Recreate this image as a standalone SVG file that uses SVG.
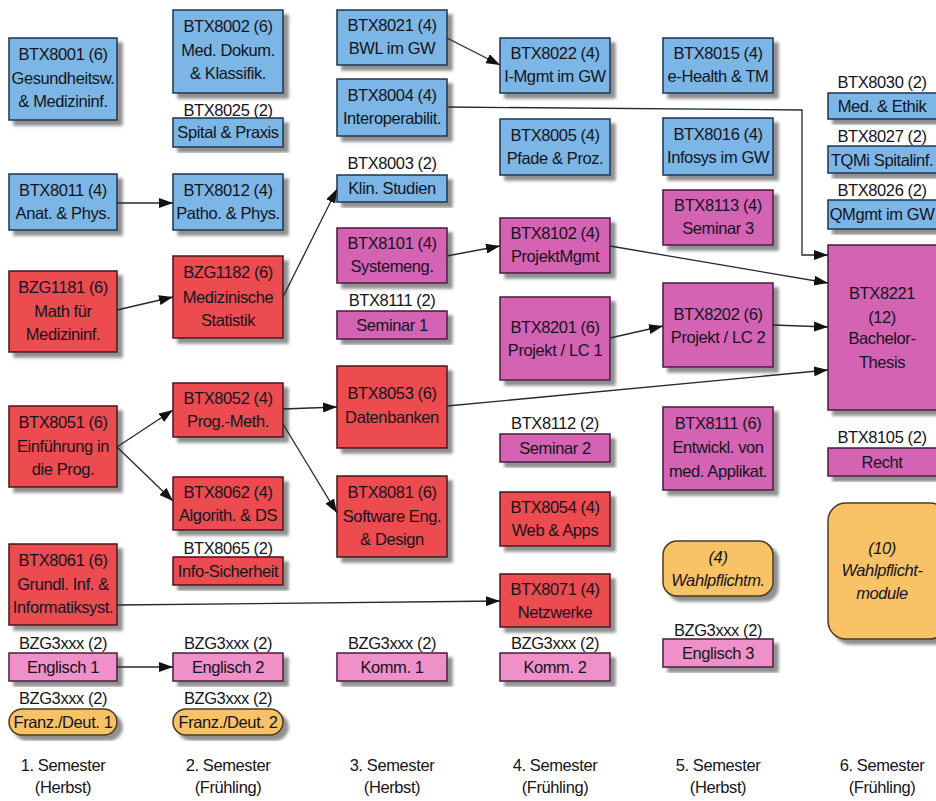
<svg xmlns="http://www.w3.org/2000/svg" width="936" height="801" viewBox="0 0 936 801">
<defs>
<filter id="sh" x="-10%" y="-10%" width="130%" height="130%">
<feDropShadow dx="5" dy="5" stdDeviation="1.5" flood-color="#555" flood-opacity="0.65"/>
</filter>
<marker id="ah" markerWidth="14" markerHeight="10" refX="14" refY="5" orient="auto" markerUnits="userSpaceOnUse">
<path d="M0,0 L14,5 L0,10 z" fill="#111"/>
</marker>
<style>
text{font-family:"Liberation Sans",Arial,sans-serif;font-size:16.5px;letter-spacing:-0.4px;fill:#141420;text-anchor:middle}
.b{fill:#7CB6E6;stroke:#1E3550;stroke-width:1.5;filter:url(#sh)}
.r{fill:#EC4B4F;stroke:#4A1518;stroke-width:1.5;filter:url(#sh)}
.m{fill:#D563B4;stroke:#4A1A3E;stroke-width:1.5;filter:url(#sh)}
.p{fill:#F090C8;stroke:#4A1A3E;stroke-width:1.5;filter:url(#sh)}
.o{fill:#F8C266;stroke:#4A3A20;stroke-width:1.5;filter:url(#sh)}
.it{font-style:italic}
.c line,.c path{stroke:#1F2A36;stroke-width:1.3;fill:none;marker-end:url(#ah)}
</style>
</defs>
<rect width="936" height="801" fill="#fff"/>

<!-- Column 1 -->
<g id="n8001"><rect class="b" x="9" y="38" width="108" height="82"/><text x="63" y="60">BTX8001 (6)</text><text x="63" y="84">Gesundheitsw.</text><text x="63" y="107">&amp; Medizininf.</text></g>
<g id="n8011"><rect class="b" x="9" y="174" width="108" height="56"/><text x="63" y="196">BTX8011 (4)</text><text x="63" y="219">Anat. &amp; Phys.</text></g>
<g id="n1181"><rect class="r" x="9" y="271" width="108" height="81"/><text x="63" y="293">BZG1181 (6)</text><text x="63" y="317">Math für</text><text x="63" y="340">Medizininf.</text></g>
<g id="n8051"><rect class="r" x="9" y="406" width="108" height="81"/><text x="63" y="428">BTX8051 (6)</text><text x="63" y="452">Einführung in</text><text x="63" y="475">die Prog.</text></g>
<g id="n8061"><rect class="r" x="9" y="544" width="108" height="81"/><text x="63" y="566">BTX8061 (6)</text><text x="63" y="590">Grundl. Inf. &amp;</text><text x="63" y="613">Informatiksyst.</text></g>
<g id="eng1"><text x="63" y="649">BZG3xxx (2)</text><rect class="p" x="9" y="653" width="108" height="28"/><text x="63" y="673">Englisch 1</text></g>
<g id="fr1"><text x="63" y="704">BZG3xxx (2)</text><rect class="o" x="9" y="709" width="108" height="26" rx="13"/><text x="63" y="728">Franz./Deut. 1</text></g>
<g id="sem1"><text x="63" y="771">1. Semester</text><text x="63" y="793">(Herbst)</text></g>

<!-- Column 2 -->
<g id="n8002"><rect class="b" x="173" y="10" width="110" height="83"/><text x="228" y="32">BTX8002 (6)</text><text x="228" y="56">Med. Dokum.</text><text x="228" y="79">&amp; Klassifik.</text></g>
<g id="n8025"><text x="228" y="116">BTX8025 (2)</text><rect class="b" x="173" y="118" width="110" height="29"/><text x="228" y="138">Spital &amp; Praxis</text></g>
<g id="n8012"><rect class="b" x="173" y="174" width="110" height="56"/><text x="228" y="196">BTX8012 (4)</text><text x="228" y="219">Patho. &amp; Phys.</text></g>
<g id="n1182"><rect class="r" x="173" y="256" width="110" height="82"/><text x="228" y="278">BZG1182 (6)</text><text x="228" y="303">Medizinische</text><text x="228" y="326">Statistik</text></g>
<g id="n8052"><rect class="r" x="173" y="383" width="110" height="54"/><text x="228" y="404">BTX8052 (4)</text><text x="228" y="427">Prog.-Meth.</text></g>
<g id="n8062"><rect class="r" x="173" y="477" width="110" height="53"/><text x="228" y="498">BTX8062 (4)</text><text x="228" y="521">Algorith. &amp; DS</text></g>
<g id="n8065"><text x="228" y="554">BTX8065 (2)</text><rect class="r" x="173" y="557" width="110" height="28"/><text x="228" y="577">Info-Sicherheit</text></g>
<g id="eng2"><text x="228" y="649">BZG3xxx (2)</text><rect class="p" x="173" y="653" width="110" height="28"/><text x="228" y="673">Englisch 2</text></g>
<g id="fr2"><text x="228" y="704">BZG3xxx (2)</text><rect class="o" x="173" y="709" width="110" height="26" rx="13"/><text x="228" y="728">Franz./Deut. 2</text></g>
<g id="sem2"><text x="228" y="771">2. Semester</text><text x="228" y="793">(Frühling)</text></g>

<!-- Column 3 -->
<g id="n8021"><rect class="b" x="337" y="10" width="110" height="55"/><text x="392" y="31">BTX8021 (4)</text><text x="392" y="54">BWL im GW</text></g>
<g id="n8004"><rect class="b" x="337" y="79" width="110" height="57"/><text x="392" y="101">BTX8004 (4)</text><text x="392" y="124">Interoperabilit.</text></g>
<g id="n8003"><text x="392" y="169">BTX8003 (2)</text><rect class="b" x="337" y="175" width="110" height="27"/><text x="392" y="194">Klin. Studien</text></g>
<g id="n8101"><rect class="m" x="337" y="228" width="110" height="55"/><text x="392" y="249">BTX8101 (4)</text><text x="392" y="272">Systemeng.</text></g>
<g id="n8111s"><text x="392" y="306">BTX8111 (2)</text><rect class="m" x="337" y="311" width="110" height="28"/><text x="392" y="331">Seminar 1</text></g>
<g id="n8053"><rect class="r" x="337" y="366" width="110" height="82"/><text x="392" y="399">BTX8053 (6)</text><text x="392" y="423">Datenbanken</text></g>
<g id="n8081"><rect class="r" x="337" y="476" width="110" height="81"/><text x="392" y="498">BTX8081 (6)</text><text x="392" y="522">Software Eng.</text><text x="392" y="545">&amp; Design</text></g>
<g id="komm1"><text x="392" y="649">BZG3xxx (2)</text><rect class="p" x="337" y="653" width="110" height="28"/><text x="392" y="673">Komm. 1</text></g>
<g id="sem3"><text x="392" y="771">3. Semester</text><text x="392" y="793">(Herbst)</text></g>

<!-- Column 4 -->
<g id="n8022"><rect class="b" x="500" y="38" width="110" height="55"/><text x="555" y="59">BTX8022 (4)</text><text x="555" y="82">I-Mgmt im GW</text></g>
<g id="n8005"><rect class="b" x="500" y="119" width="110" height="56"/><text x="555" y="141">BTX8005 (4)</text><text x="555" y="164">Pfade &amp; Proz.</text></g>
<g id="n8102"><rect class="m" x="500" y="218" width="110" height="55"/><text x="555" y="239">BTX8102 (4)</text><text x="555" y="262">ProjektMgmt</text></g>
<g id="n8201"><rect class="m" x="500" y="297" width="110" height="83"/><text x="555" y="333">BTX8201 (6)</text><text x="555" y="356">Projekt / LC 1</text></g>
<g id="n8112"><text x="555" y="429">BTX8112 (2)</text><rect class="m" x="500" y="434" width="110" height="28"/><text x="555" y="454">Seminar 2</text></g>
<g id="n8054"><rect class="r" x="500" y="492" width="110" height="54"/><text x="555" y="513">BTX8054 (4)</text><text x="555" y="536">Web &amp; Apps</text></g>
<g id="n8071"><rect class="r" x="500" y="574" width="110" height="53"/><text x="555" y="595">BTX8071 (4)</text><text x="555" y="618">Netzwerke</text></g>
<g id="komm2"><text x="555" y="649">BZG3xxx (2)</text><rect class="p" x="500" y="653" width="110" height="28"/><text x="555" y="673">Komm. 2</text></g>
<g id="sem4"><text x="555" y="771">4. Semester</text><text x="555" y="793">(Frühling)</text></g>

<!-- Column 5 -->
<g id="n8015"><rect class="b" x="663" y="38" width="110" height="55"/><text x="718" y="59">BTX8015 (4)</text><text x="718" y="82">e-Health &amp; TM</text></g>
<g id="n8016"><rect class="b" x="663" y="118" width="110" height="57"/><text x="718" y="140">BTX8016 (4)</text><text x="718" y="163">Infosys im GW</text></g>
<g id="n8113"><rect class="m" x="663" y="190" width="110" height="55"/><text x="718" y="211">BTX8113 (4)</text><text x="718" y="234">Seminar 3</text></g>
<g id="n8202"><rect class="m" x="663" y="283" width="110" height="84"/><text x="718" y="320">BTX8202 (6)</text><text x="718" y="343">Projekt / LC 2</text></g>
<g id="n8111"><rect class="m" x="663" y="407" width="110" height="83"/><text x="718" y="429">BTX8111 (6)</text><text x="718" y="453">Entwickl. von</text><text x="718" y="477">med. Applikat.</text></g>
<g id="wpm4"><rect class="o" x="663" y="541" width="110" height="55" rx="14"/><text class="it" x="718" y="563">(4)</text><text class="it" x="718" y="586">Wahlpflichtm.</text></g>
<g id="eng3"><text x="718" y="636">BZG3xxx (2)</text><rect class="p" x="663" y="639" width="110" height="28"/><text x="718" y="659">Englisch 3</text></g>
<g id="sem5"><text x="718" y="771">5. Semester</text><text x="718" y="793">(Herbst)</text></g>

<!-- Column 6 -->
<g id="n8030"><text x="882" y="88">BTX8030 (2)</text><rect class="b" x="828" y="93" width="112" height="26"/><text x="882" y="112">Med. &amp; Ethik</text></g>
<g id="n8027"><text x="882" y="142">BTX8027 (2)</text><rect class="b" x="828" y="146" width="112" height="27"/><text x="882" y="166">TQMi Spitalinf.</text></g>
<g id="n8026"><text x="882" y="196">BTX8026 (2)</text><rect class="b" x="828" y="200" width="112" height="29"/><text x="882" y="220">QMgmt im GW</text></g>
<g id="n8221"><rect class="m" x="828" y="245" width="112" height="165"/><text x="882" y="299">BTX8221</text><text x="882" y="323">(12)</text><text x="882" y="344">Bachelor-</text><text x="882" y="368">Thesis</text></g>
<g id="n8105"><text x="882" y="443">BTX8105 (2)</text><rect class="m" x="828" y="448" width="112" height="28"/><text x="882" y="468">Recht</text></g>
<g id="wpm10"><rect class="o" x="828" y="503" width="120" height="136" rx="18"/><text class="it" x="882" y="554">(10)</text><text class="it" x="882" y="576">Wahlpflicht-</text><text class="it" x="882" y="599">module</text></g>
<g id="sem6"><text x="882" y="771">6. Semester</text><text x="882" y="793">(Frühling)</text></g>

<!-- Connectors -->
<g id="connectors" class="c">
<line x1="117" y1="203" x2="173" y2="203"/>
<line x1="117" y1="310" x2="173" y2="297"/>
<line x1="283" y1="297" x2="337" y2="189"/>
<line x1="447" y1="38" x2="500" y2="65"/>
<path d="M447,107 L802,110 L802,255 L828,255"/>
<line x1="447" y1="256" x2="500" y2="246"/>
<line x1="610" y1="246" x2="828" y2="283"/>
<line x1="610" y1="338" x2="663" y2="326"/>
<line x1="773" y1="325" x2="828" y2="327"/>
<line x1="447" y1="406" x2="828" y2="370"/>
<line x1="117" y1="447" x2="173" y2="410"/>
<line x1="117" y1="447" x2="173" y2="501"/>
<line x1="283" y1="409" x2="337" y2="407"/>
<line x1="283" y1="424" x2="337" y2="513"/>
<line x1="117" y1="605" x2="500" y2="601"/>
<line x1="117" y1="667" x2="173" y2="667"/>
</g>
</svg>
